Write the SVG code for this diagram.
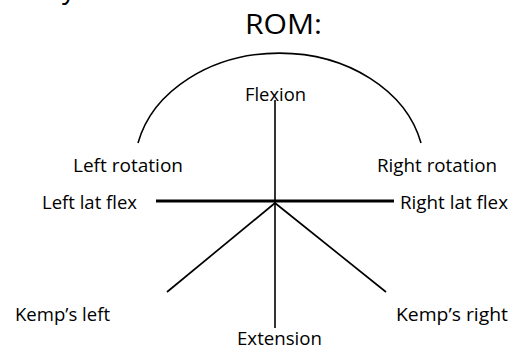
<svg xmlns="http://www.w3.org/2000/svg" width="522" height="349" viewBox="0 0 522 349">
<style>
.lbl{font-family:"Open Sans","Liberation Sans",sans-serif;font-size:18.5px;fill:#000}
.title{font-family:"Open Sans","Liberation Sans",sans-serif;font-size:27px;fill:#000}
.ln{stroke:#000;fill:none;stroke-linecap:butt}
</style>
<rect width="522" height="349" fill="#fff"/>
<text class="title" x="62" y="-2" font-size="34">y</text>
<g id="title"><text class="title" x="245" y="34" textLength="77" lengthAdjust="spacingAndGlyphs">ROM:</text></g>
<g id="connectors">
<path class="ln" d="M138,143 A145,115 0 0 1 421,143" stroke-width="1.6"/>
<line class="ln" x1="275" y1="100" x2="275" y2="328" stroke-width="1.6"/>
<line class="ln" x1="156" y1="201" x2="394" y2="201" stroke-width="3"/>
<line class="ln" x1="275" y1="203" x2="167" y2="292" stroke-width="1.7"/>
<line class="ln" x1="275" y1="203" x2="386" y2="292" stroke-width="1.7"/>
</g>
<g id="flexion"><text class="lbl" x="245" y="101" textLength="61" lengthAdjust="spacingAndGlyphs">Flexion</text></g>
<g id="left-rotation"><text class="lbl" x="73" y="172" textLength="110" lengthAdjust="spacingAndGlyphs">Left rotation</text></g>
<g id="right-rotation"><text class="lbl" x="377" y="172" textLength="120" lengthAdjust="spacingAndGlyphs">Right rotation</text></g>
<g id="left-lat-flex"><text class="lbl" x="42" y="209" textLength="95" lengthAdjust="spacingAndGlyphs">Left lat flex</text></g>
<g id="right-lat-flex"><text class="lbl" x="400" y="209" textLength="108" lengthAdjust="spacingAndGlyphs">Right lat flex</text></g>
<g id="kemps-left"><text class="lbl" x="15" y="321" textLength="95" lengthAdjust="spacingAndGlyphs">Kemp’s left</text></g>
<g id="kemps-right"><text class="lbl" x="396" y="321" textLength="112" lengthAdjust="spacingAndGlyphs">Kemp’s right</text></g>
<g id="extension"><text class="lbl" x="237" y="345" textLength="85" lengthAdjust="spacingAndGlyphs">Extension</text></g>
</svg>
